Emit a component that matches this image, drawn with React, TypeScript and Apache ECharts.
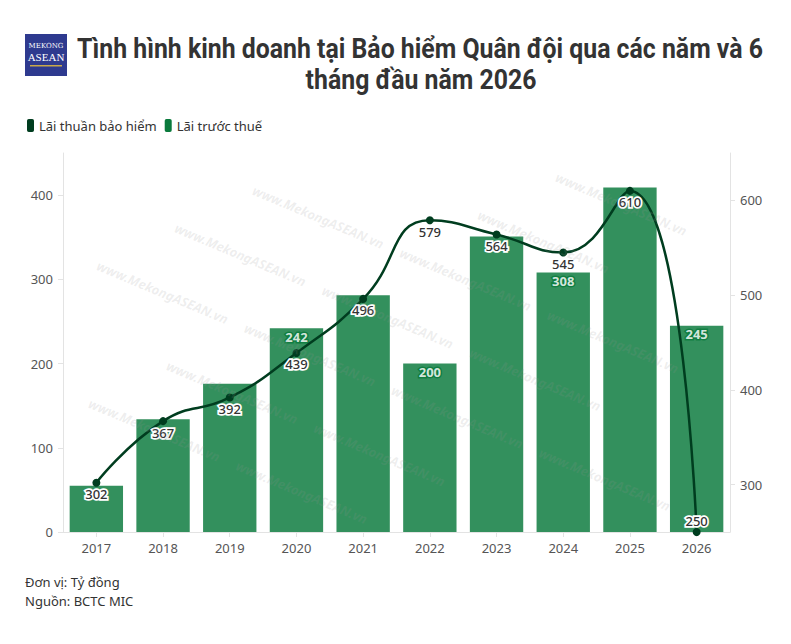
import React, { useEffect, useRef } from "react";
import * as echarts from "echarts";

const years = ["2017", "2018", "2019", "2020", "2021", "2022", "2023", "2024", "2025", "2026"];
const netInsuranceProfit = [302, 367, 392, 439, 496, 579, 564, 545, 610, 250];
const profitBeforeTax = [55, 134, 176, 242, 281, 200, 351, 308, 409, 245];
const leftAxisRange = [0, 450];
const rightAxisRange = [250, 650];

const titleLines = ["Tình hình kinh doanh tại Bảo hiểm Quân đội qua các năm và 6", "tháng đầu năm 2026"];
const unitText = "Đơn vị: Tỷ đồng";
const sourceText = "Nguồn: BCTC MIC";
const lineName = "Lãi thuần bảo hiểm";
const barName = "Lãi trước thuế";
const watermarkText = "www.MekongASEAN.vn";

const FONT = "'Noto Sans', Roboto, sans-serif";
const LINE_COLOR = "#003d1f";
const BAR_COLOR = "#0a7a3c";

// bar labels that collide with the line's labels are not drawn in the reference
const hiddenBarLabelYears = new Set(["2017", "2018", "2019", "2021", "2023", "2025"]);

function buildWatermarks() {
  const out: any[] = [];
  const c = Math.cos(0.4), s = Math.sin(0.4);
  for (let k = -4; k <= 9; k++) {
    const v = 76 + 65 * k;
    const off = 147 - 57 * k;
    for (let j = -4; j <= 8; j++) {
      const u = off + 160 * j;
      const x = c * u - s * v;
      const y = s * u + c * v;
      if (x >= 63 && x + 130 <= 730 && y >= 160 && y + 56 <= 528) {
        out.push({
          type: "text",
          x,
          y,
          rotation: -0.4,
          silent: true,
          z: 50,
          style: {
            text: watermarkText,
            fill: "rgba(150,150,150,0.16)",
            font: `italic bold 13px ${FONT}`,
            textVerticalAlign: "middle",
          },
        });
      }
    }
  }
  return out;
}

export default function App() {
  const ref = useRef<HTMLDivElement>(null);
  useEffect(() => {
    if (!ref.current) return;
    const chart = echarts.init(ref.current, undefined, { renderer: "svg" });
    const titleFont = "bold 27px Roboto, 'Noto Sans', sans-serif";
    const option: any = {
      animation: false,
      backgroundColor: "#ffffff",
      textStyle: { fontFamily: FONT },
      legend: {
        left: 22,
        top: 114,
        itemWidth: 7,
        itemHeight: 13,
        itemGap: 8,
        icon: "roundRect",
        textStyle: { color: "#333", fontSize: 13, fontFamily: FONT },
        data: [
          { name: lineName, itemStyle: { color: LINE_COLOR, opacity: 1 } },
          { name: barName, itemStyle: { color: BAR_COLOR, opacity: 1 } },
        ],
      },
      grid: { left: 63, right: 61, top: 153, bottom: 112, containLabel: false },
      xAxis: {
        type: "category",
        data: years,
        axisLine: { show: true, lineStyle: { color: "#e3e3e3" } },
        axisTick: { show: true, alignWithLabel: true, length: 5, lineStyle: { color: "#e3e3e3" } },
        axisLabel: { color: "#555", fontSize: 13, margin: 9, fontFamily: FONT },
      },
      yAxis: [
        {
          type: "value",
          min: leftAxisRange[0],
          max: leftAxisRange[1],
          splitNumber: 5,
          axisLine: { show: true, lineStyle: { color: "#e3e3e3" } },
          axisTick: { show: true, length: 5, lineStyle: { color: "#e3e3e3" } },
          splitLine: { show: false },
          axisLabel: { color: "#555", fontSize: 13, margin: 10, showMaxLabel: false, fontFamily: FONT },
        },
        {
          type: "value",
          min: rightAxisRange[0],
          max: rightAxisRange[1],
          splitNumber: 4,
          position: "right",
          axisLine: { show: true, lineStyle: { color: "#e3e3e3" } },
          axisTick: { show: true, length: 5, lineStyle: { color: "#e3e3e3" } },
          splitLine: { show: false },
          axisLabel: {
            color: "#555",
            fontSize: 13,
            margin: 10,
            showMinLabel: false,
            showMaxLabel: false,
            fontFamily: FONT,
          },
        },
      ],
      series: [
        {
          name: barName,
          type: "bar",
          yAxisIndex: 0,
          barCategoryGap: "20%",
          z: 2,
          itemStyle: { color: BAR_COLOR, opacity: 0.83 },
          data: profitBeforeTax.map((v, i) => ({
            value: v,
            label: { show: !hiddenBarLabelYears.has(years[i]) },
          })),
          label: {
            position: "insideTop",
            distance: 2,
            color: "#fff",
            fontSize: 13,
            fontWeight: "bold",
            fontFamily: FONT,
            textBorderColor: BAR_COLOR,
            textBorderWidth: 3,
          },
        },
        {
          name: lineName,
          type: "line",
          yAxisIndex: 1,
          smooth: true,
          z: 5,
          symbol: "circle",
          symbolSize: 8,
          lineStyle: { color: LINE_COLOR, width: 2.5 },
          itemStyle: { color: LINE_COLOR },
          data: netInsuranceProfit.map((v, i) => ({
            value: v,
            label: { position: i === netInsuranceProfit.length - 1 ? "top" : "bottom" },
          })),
          label: {
            show: true,
            position: "bottom",
            distance: 1,
            color: "#333",
            fontSize: 13,
            fontWeight: 500,
            fontFamily: FONT,
            textBorderColor: "#fff",
            textBorderWidth: 3.5,
          },
        },
      ],
      graphic: [
        ...buildWatermarks(),
        {
          type: "rect",
          x: 25,
          y: 34,
          shape: { width: 42, height: 42 },
          style: { fill: "#2e3a8f" },
        },
        {
          type: "text",
          x: 46,
          y: 46,
          style: {
            text: "MEKONG",
            fill: "#fff",
            font: "7px 'DejaVu Serif', 'Liberation Serif', serif",
            textAlign: "center",
            textVerticalAlign: "middle",
          },
        },
        {
          type: "text",
          x: 46,
          y: 57,
          style: {
            text: "ASEAN",
            fill: "#fff",
            font: "11px 'Liberation Serif', 'DejaVu Serif', serif",
            textAlign: "center",
            textVerticalAlign: "middle",
          },
        },
        {
          type: "rect",
          x: 30,
          y: 65,
          shape: { width: 32, height: 1.5 },
          style: { fill: "#c9a94a" },
        },
        {
          type: "text",
          x: 420,
          y: 35,
          scaleX: 0.92,
          style: {
            text: titleLines[0],
            fill: "#333",
            font: titleFont,
            textAlign: "center",
            textVerticalAlign: "top",
          },
        },
        {
          type: "text",
          x: 421,
          y: 66,
          scaleX: 0.92,
          style: {
            text: titleLines[1],
            fill: "#333",
            font: titleFont,
            textAlign: "center",
            textVerticalAlign: "top",
          },
        },
        {
          type: "text",
          x: 25,
          y: 582,
          style: { text: unitText, fill: "#333", font: `13px ${FONT}`, textVerticalAlign: "middle" },
        },
        {
          type: "text",
          x: 25,
          y: 601,
          style: { text: sourceText, fill: "#333", font: `13px ${FONT}`, textVerticalAlign: "middle" },
        },
      ],
    };
    chart.setOption(option);
    return () => chart.dispose();
  }, []);
  return (
    <div
      ref={ref}
      style={{ position: "fixed", left: 0, top: 0, width: 791, height: 644, background: "#fff" }}
    />
  );
}
